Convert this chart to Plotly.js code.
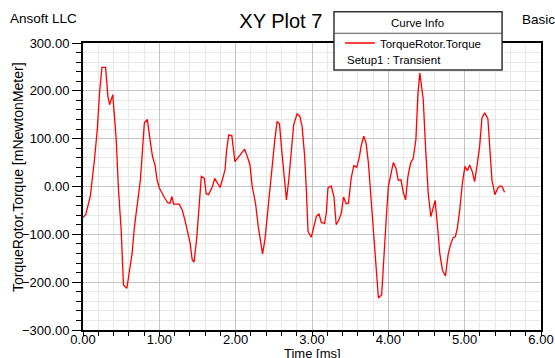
<!DOCTYPE html>
<html><head><meta charset="utf-8">
<script src="https://cdn.plot.ly/plotly-3.0.1.min.js"></script>
<style>html,body{margin:0;padding:0;background:#fff}#chart{width:555px;height:358px}</style>
</head><body><div id="chart"></div>
<script>
const timeMs = [0.00,0.035,0.065,0.096,0.15,0.187,0.217,0.248,0.296,0.326,0.348,0.39,0.435,0.465,0.50,0.53,0.574,0.609,0.643,0.674,0.709,0.752,0.804,0.843,0.878,0.91,0.943,0.97,1.00,1.035,1.07,1.11,1.14,1.165,1.187,1.26,1.30,1.335,1.374,1.404,1.43,1.455,1.49,1.52,1.55,1.59,1.613,1.645,1.696,1.725,1.761,1.796,1.826,1.861,1.88,1.91,1.95,1.99,2.06,2.117,2.152,2.187,2.217,2.26,2.296,2.326,2.352,2.383,2.426,2.47,2.513,2.543,2.574,2.609,2.643,2.665,2.696,2.73,2.76,2.804,2.84,2.87,2.904,2.926,2.948,2.991,3.026,3.057,3.091,3.122,3.165,3.187,3.209,3.252,3.287,3.317,3.352,3.383,3.413,3.448,3.478,3.513,3.548,3.587,3.622,3.643,3.678,3.709,3.739,3.774,3.809,3.839,3.87,3.913,3.939,3.97,4.00,4.035,4.065,4.10,4.13,4.165,4.196,4.226,4.257,4.291,4.326,4.361,4.387,4.413,4.435,4.457,4.487,4.522,4.557,4.587,4.613,4.648,4.674,4.709,4.748,4.783,4.813,4.848,4.878,4.904,4.935,4.97,5.004,5.035,5.065,5.10,5.13,5.161,5.196,5.226,5.261,5.304,5.335,5.357,5.396,5.435,5.465,5.491,5.522];
const torque = [-65,-59,-40,-20,56,119,196,249,249,189,171,192,98,-7,-91,-206,-213,-175,-140,-84,-35,14,133,140,98,63,45,14,-3,-15,-24,-34,-35,-21,-37,-37,-49,-70,-101,-119,-153,-158,-108,-40,21,17,-15,-17,0,17,7,-2,14,35,74,108,106,52,66,78,63,45,0,-35,-84,-112,-141,-112,-42,42,98,136,131,66,14,-28,14,77,129,152,147,126,63,-7,-94,-106,-80,-63,-57,-75,-77,-56,-3,1,-21,-80,-70,-56,-22,-36,-35,17,44,40,63,84,105,91,49,-28,-98,-161,-233,-226,-147,-73,0,28,50,38,13,14,-12,-28,21,49,59,98,192,237,209,182,84,-14,-63,-42,-29,-91,-140,-175,-187,-143,-122,-107,-105,-87,-49,7,42,33,45,31,10,42,84,143,154,142,77,14,-17,-3,1,0,-12];

const seriesName = 'TorqueRotor.Torque';
const setupLabel = 'Setup1 : Transient';
const legendHeader = 'Curve Info';
const plotTitle = 'XY Plot 7';
const companyLabel = 'Ansoft LLC';
const cornerLabel = 'Basic';
const xTitle = 'Time [ms]';
const yTitle = 'TorqueRotor.Torque [mNewtonMeter]';

const FONT = 'Liberation Sans, Arial, sans-serif';

const trace = {
  x: timeMs, y: torque, type: 'scatter', mode: 'lines', name: seriesName,
  line: {color: '#ff0000', width: 1.3}
};

const layout = {
  width: 555, height: 358,
  margin: {l: 83, r: 14, t: 43, b: 28, pad: 0},
  paper_bgcolor: '#ffffff', plot_bgcolor: '#ffffff',
  font: {family: FONT, size: 13, color: '#000'},
  title: {text: plotTitle, font: {family: FONT, size: 20, color: '#000'}, x: 0.506, xref: 'container', y: 0.942, yref: 'container', yanchor: 'middle', xanchor: 'center'},
  showlegend: true,
  legend: {x: 0.561, xanchor: 'left', y: 1.0, yanchor: 'middle', bgcolor: 'rgba(0,0,0,0)', borderwidth: 0,
           font: {family: FONT, size: 11.5, color: '#000'}},
  xaxis: {
    range: [0, 6], tickvals: [0,1,2,3,4,5,6], tickformat: '.2f',
    ticks: 'outside', ticklen: 4, tickwidth: 1, tickcolor: '#000', ticklabelstandoff: -8,
    showline: true, linecolor: '#000', linewidth: 2, mirror: true,
    showgrid: true, gridcolor: '#c4c4c4', gridwidth: 1, zeroline: false,
    minor: {dtick: 0.2, ticks: 'outside', ticklen: 4, tickcolor: '#000', showgrid: true, gridcolor: '#e8e8e8', gridwidth: 1},
    tickfont: {family: FONT, size: 13, color: '#000'},
    fixedrange: true
  },
  yaxis: {
    range: [-300, 300], dtick: 100, tick0: 0, tickformat: '.2f',
    ticks: 'outside', ticklen: 9, tickwidth: 1, tickcolor: '#000',
    showline: true, linecolor: '#000', linewidth: 2, mirror: true,
    showgrid: true, gridcolor: '#c4c4c4', gridwidth: 1, zeroline: false,
    minor: {dtick: 20, ticks: 'outside', ticklen: 5, tickcolor: '#000', showgrid: true, gridcolor: '#e8e8e8', gridwidth: 1},
    tickfont: {family: FONT, size: 13, color: '#000'},
    fixedrange: true
  },
  shapes: [
    {type: 'rect', xref: 'paper', yref: 'paper', x0: 0.548, x1: 0.915, y0: 0.906, y1: 1.109,
     line: {color: '#333', width: 1.5}, fillcolor: '#ffffff', layer: 'above'},
    {type: 'line', xref: 'paper', yref: 'paper', x0: 0.548, x1: 0.915, y0: 1.034, y1: 1.034,
     line: {color: '#555', width: 1}, layer: 'above'}
  ],
  annotations: [
    {text: xTitle, xref: 'paper', yref: 'paper', x: 0.5, y: -0.082, xanchor: 'center', yanchor: 'middle', showarrow: false, font: {family: FONT, size: 13, color: '#000'}},
    {text: yTitle, xref: 'paper', yref: 'paper', x: -0.142, y: 0.533, xanchor: 'center', yanchor: 'middle', textangle: -90, showarrow: false, font: {family: FONT, size: 14, color: '#000'}},
    {text: legendHeader, xref: 'paper', yref: 'paper', x: 0.7314, y: 1.0687, xanchor: 'center', yanchor: 'middle', showarrow: false, font: {family: FONT, size: 11.5, color: '#000'}},
    {text: setupLabel, xref: 'paper', yref: 'paper', x: 0.572, y: 0.9408, xanchor: 'left', yanchor: 'middle', showarrow: false, font: {family: FONT, size: 11.5, color: '#000'}},
    {text: companyLabel, xref: 'paper', yref: 'paper', x: -0.1627, y: 1.0854, xanchor: 'left', yanchor: 'middle', showarrow: false, font: {family: FONT, size: 13.5, color: '#000'}},
    {text: cornerLabel, xref: 'paper', yref: 'paper', x: 0.954, y: 1.0836, xanchor: 'left', yanchor: 'middle', showarrow: false, font: {family: FONT, size: 13.5, color: '#000'}}
  ]
};

Plotly.newPlot('chart', [trace], layout, {displayModeBar: false, staticPlot: true});
</script>
</body></html>
